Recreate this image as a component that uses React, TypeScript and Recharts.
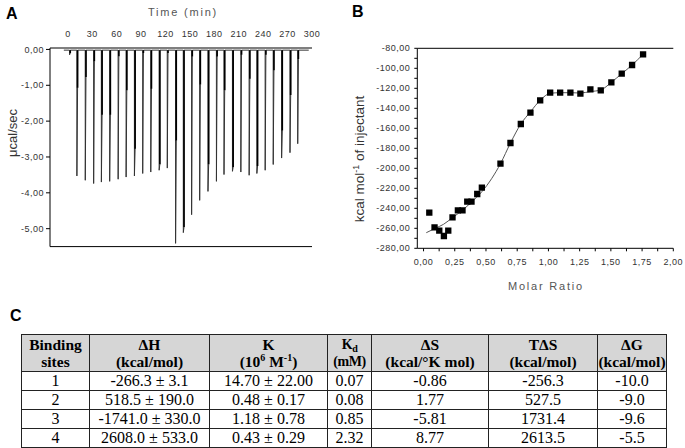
import React from 'react';
import { LineChart, ComposedChart, Line, Scatter, XAxis, YAxis, ZAxis } from 'recharts';

// ---------- Panel A: raw ITC thermogram ----------
const injectionTimes = [2, 11, 21.3, 31.6, 41.1, 51.3, 61.7, 71.5, 81.7, 91.9, 101.8, 112.1, 122.1, 132.3, 141.8, 152, 161.9, 172.1, 182.5, 191.8, 202.2, 212.5, 222.7, 232.2, 242.4, 252.3, 262.6, 272.9, 282.4];
const peakMinima = [-0.15, -3.53, -3.65, -3.74, -3.7, -3.68, -3.62, -3.56, -3.53, -3.46, -3.42, -3.37, -3.31, -5.41, -5.11, -4.61, -4.21, -3.96, -3.68, -3.49, -3.4, -3.42, -3.51, -3.46, -3.37, -3.21, -3.03, -2.88, -2.63];
const peakReturn = [-0.1, -1.07, -0.77, -0.33, -1.82, -1.82, -0.19, -1.14, -2.77, -0.1, -1.1, -3.2, -0.1, -2.54, -4.95, -0.2, -0.98, -3.2, -0.2, -1.14, -3.28, -0.15, -0.82, -3.25, -0.15, -0.58, -2.26, -1.27, -0.27];
const baselinePower = -0.02;
const timeTicks = [0, 30, 60, 90, 120, 150, 180, 210, 240, 270, 300];
const bottomTicks = [-9.5, 10, 29.5, 49, 68.5, 88, 107.5, 127, 146.5, 166, 185.5, 205, 224.5, 244, 263.5, 283];
const powerTicks = [-5, -4, -3, -2, -1, 0];
const powerMinorTicks = [-5.5, -5, -4.5, -4, -3.5, -3, -2.5, -2, -1.5, -1, -0.5, 0];

// ---------- Panel B: integrated heats ----------
const molarRatio = [0.046, 0.088, 0.126, 0.163, 0.198, 0.232, 0.275, 0.312, 0.35, 0.384, 0.43, 0.467, 0.616, 0.696, 0.779, 0.856, 0.934, 1.014, 1.094, 1.176, 1.256, 1.336, 1.419, 1.504, 1.587, 1.67, 1.758];
const heatPerMol = [-244.4, -259.0, -262.4, -267.7, -262.4, -249.0, -242.0, -242.0, -233.4, -233.4, -225.7, -219.4, -195.4, -174.7, -155.7, -144.4, -132.0, -124.4, -124.4, -124.4, -125.4, -121.0, -122.0, -114.0, -105.4, -96.7, -86.0];
const fitRatio = [0.022, 0.094, 0.16, 0.232, 0.307, 0.387, 0.467, 0.547, 0.616, 0.696, 0.779, 0.856, 0.934, 1.014, 1.094, 1.176, 1.256, 1.336, 1.419, 1.504, 1.587, 1.67, 1.758];
const fitHeat = [-264.4, -260, -256, -249.3, -242.4, -233.4, -223.4, -210, -195.4, -174.7, -155.7, -143.5, -132, -125, -124.4, -124.4, -124.7, -123.3, -121.7, -114, -105.4, -96.7, -86];
const ratioTicks = [0, 0.125, 0.25, 0.375, 0.5, 0.625, 0.75, 0.875, 1, 1.125, 1.25, 1.375, 1.5, 1.625, 1.75, 1.875, 2];
const heatTicks = [-280, -270, -260, -250, -240, -230, -220, -210, -200, -190, -180, -170, -160, -150, -140, -130, -120, -110, -100, -90, -80];

// ---------- Panel C: table ----------
const tableHeaders = [
  ['Binding', 'sites'],
  ['ΔH', '(kcal/mol)'],
  ['K', '(10^6 M^-1)'],
  ['K_d', '(mM)'],
  ['ΔS', '(kcal/°K mol)'],
  ['TΔS', '(kcal/mol)'],
  ['ΔG', '(kcal/mol)'],
];
const sites = ['1', '2', '3', '4'];
const deltaH = ['-266.3 ± 3.1', '518.5 ± 190.0', '-1741.0 ± 330.0', '2608.0 ± 533.0'];
const kValues = ['14.70 ± 22.00', '0.48 ± 0.17', '1.18 ± 0.78', '0.43 ± 0.29'];
const kd = ['0.07', '0.08', '0.85', '2.32'];
const deltaS = ['-0.86', '1.77', '-5.81', '8.77'];
const tDeltaS = ['-256.3', '527.5', '1731.4', '2613.5'];
const deltaG = ['-10.0', '-9.0', '-9.6', '-5.5'];
const colWidths = [68, 120, 118, 44, 117, 109, 69];

// ---------- derived tables for the library ----------
const traceData: { t: number; v: number }[] = [{ t: -5, v: baselinePower }];
injectionTimes.forEach((t, i) => {
  traceData.push({ t, v: baselinePower });
  traceData.push({ t: t + 0.05, v: peakMinima[i] });
  traceData.push({ t: t + 0.9, v: peakReturn[i] });
  traceData.push({ t: t + 1.0, v: baselinePower });
});
traceData.push({ t: 296, v: baselinePower });

// return strokes of each peak (drawn heavier), separated by gaps
const returnData: { t: number; v: number | null }[] = [];
injectionTimes.forEach((t, i) => {
  returnData.push({ t: t + 0.9, v: peakReturn[i] });
  returnData.push({ t: t + 0.9, v: baselinePower });
  returnData.push({ t: t + 0.95, v: null });
});

const pointData = molarRatio.map((x, i) => ({ x, y: heatPerMol[i] }));
const fitData = fitRatio.map((x, i) => ({ x, y: fitHeat[i] }));

const fmt2 = (v: number) => (Math.abs(v) < 1e-9 ? 0 : v).toFixed(2).replace('.', ',');
const sans = '"Liberation Sans", Arial, sans-serif';
const tickFont = { fontSize: 9, fill: '#333', fontFamily: sans, letterSpacing: 0.5 };

function HeaderCell({ lines, narrow }: { lines: string[]; narrow?: boolean }) {
  const render = (s: string) => {
    if (s === 'K_d') return (<>K<sub style={{ fontSize: 10, verticalAlign: 'baseline', position: 'relative', top: 3, lineHeight: 0 }}>d</sub></>);
    if (s === '(10^6 M^-1)') return (<>(10<sup style={{ fontSize: 10, verticalAlign: 'super', lineHeight: 0 }}>6</sup> M<sup style={{ fontSize: 10, verticalAlign: 'super', lineHeight: 0 }}>-1</sup>)</>);
    return s;
  };
  return (
    <th style={{ background: '#d6d6d6', border: '1px solid #222', padding: 0, fontSize: narrow ? 14 : 15.5, letterSpacing: narrow ? -0.4 : 0, lineHeight: '17px', fontWeight: 'bold', whiteSpace: 'nowrap', overflow: 'hidden' }}>
      {render(lines[0])}<br />{render(lines[1])}
    </th>
  );
}

export default function App() {
  const rows = sites.map((s, i) => [s, deltaH[i], kValues[i], kd[i], deltaS[i], tDeltaS[i], deltaG[i]]);
  return (
    <div style={{ position: 'absolute', left: 0, top: 0, width: 685, height: 448, background: '#fff', overflow: 'hidden' }}>
      {/* Panel A */}
      <div style={{ position: 'absolute', left: 0, top: 0 }}>
        <LineChart width={330} height={262} margin={{ top: 0, right: 18, bottom: 0, left: 0 }}>
          <XAxis xAxisId="t" dataKey="t" type="number" orientation="top" domain={[-22, 300]} allowDataOverflow ticks={timeTicks} interval={0} height={48} tickSize={0} tickMargin={11} tick={tickFont} stroke="#000" />
          <XAxis xAxisId="b" dataKey="t" type="number" orientation="bottom" domain={[-22, 300]} allowDataOverflow ticks={bottomTicks} interval={0} height={15.4} tickSize={4} tick={false} stroke="#000" />
          <YAxis yAxisId="v" type="number" domain={[-5.5, 0.04]} allowDataOverflow ticks={powerTicks} interval={0} width={50} tickSize={4} tickMargin={2} tickFormatter={fmt2} tick={tickFont} stroke="#000" />
          <YAxis yAxisId="vm" type="number" domain={[-5.5, 0.04]} allowDataOverflow ticks={powerMinorTicks} interval={0} mirror tickSize={3} tick={false} axisLine={false} stroke="#000" />
          <YAxis yAxisId="vr" orientation="right" type="number" domain={[-5.5, 0.04]} allowDataOverflow mirror tick={false} tickLine={false} width={0} stroke="#000" />
          <Line xAxisId="t" yAxisId="v" data={traceData} dataKey="v" type="linear" stroke="#333" strokeWidth={1} dot={false} isAnimationActive={false} />
          <Line xAxisId="t" yAxisId="v" data={returnData} dataKey="v" type="linear" stroke="#000" strokeWidth={1.6} dot={false} connectNulls={false} isAnimationActive={false} />
        </LineChart>
      </div>

      {/* Panel B */}
      <div style={{ position: 'absolute', left: 340, top: 0 }}>
        <ComposedChart width={345} height={300} margin={{ top: 48.3, right: 11.7, bottom: 0, left: 0 }}>
          <XAxis xAxisId="x" dataKey="x" type="number" orientation="bottom" domain={[-0.05, 2]} allowDataOverflow ticks={ratioTicks} interval={0} height={51.7} tickSize={3} tickMargin={7} tickFormatter={(v: number) => (Math.abs(v * 4 - Math.round(v * 4)) < 1e-6 ? fmt2(v) : '')} tick={tickFont} stroke="#000" />
          <XAxis xAxisId="xt" dataKey="x" type="number" orientation="top" mirror domain={[-0.05, 2]} allowDataOverflow ticks={ratioTicks} interval={0} tickSize={3} tick={false} stroke="#000" />
          <YAxis yAxisId="y" dataKey="y" type="number" domain={[-280, -80]} allowDataOverflow ticks={heatTicks} interval={0} width={77.3} tickSize={3} tickMargin={4} tickFormatter={(v: number) => (v % 20 === 0 ? fmt2(v) : '')} tick={tickFont} stroke="#000" />
          <YAxis yAxisId="yr" dataKey="y" type="number" orientation="right" mirror domain={[-280, -80]} allowDataOverflow ticks={heatTicks} interval={0} tickSize={3} tick={false} width={0} stroke="#000" />
          <ZAxis range={[40, 40]} />
          <Line xAxisId="x" yAxisId="y" data={fitData} dataKey="y" type="monotone" stroke="#555" strokeWidth={1} dot={false} isAnimationActive={false} />
          <Scatter xAxisId="x" yAxisId="y" data={pointData} dataKey="y" fill="#000" shape="square" isAnimationActive={false} />
        </ComposedChart>
      </div>

      {/* Titles */}
      <svg width={685} height={448} style={{ position: 'absolute', left: 0, top: 0, pointerEvents: 'none' }}>
        <text x={6} y={19} fontSize={16} fontWeight="bold" fontFamily={sans} fill="#000">A</text>
        <text x={352} y={17} fontSize={16} fontWeight="bold" fontFamily={sans} fill="#000">B</text>
        <text x={10} y={321} fontSize={16} fontWeight="bold" fontFamily={sans} fill="#000">C</text>
        <text x={183} y={16} fontSize={11} fontFamily={sans} fill="#555" textAnchor="middle" letterSpacing={1.8}>Time (min)</text>
        <text x={17} y={133} fontSize={13} fontFamily={sans} fill="#333" textAnchor="middle" transform="rotate(-90 17 133)">μcal/sec</text>
        <text x={364} y={159} fontSize={13.5} fontFamily={sans} fill="#333" textAnchor="middle" transform="rotate(-90 364 159)">
          kcal mol<tspan dy={-5} fontSize={9}>-1</tspan><tspan dy={5}> of injectant</tspan>
        </text>
        <text x={546} y={290} fontSize={11} fontFamily={sans} fill="#555" textAnchor="middle" letterSpacing={1.8}>Molar Ratio</text>
      </svg>

      {/* Panel C table */}
      <table style={{ position: 'absolute', left: 21, top: 334, borderCollapse: 'collapse', tableLayout: 'fixed', width: 645, fontFamily: '"Liberation Serif", "Times New Roman", serif', color: '#000', textAlign: 'center' }}>
        <colgroup>
          {colWidths.map((w, i) => (<col key={i} style={{ width: w }} />))}
        </colgroup>
        <thead>
          <tr style={{ height: 37 }}>
            {tableHeaders.map((h, i) => (<HeaderCell key={i} lines={h} narrow={i === 3} />))}
          </tr>
        </thead>
        <tbody>
          {rows.map((r, i) => (
            <tr key={i} style={{ height: 19 }}>
              {r.map((c, j) => (
                <td key={j} style={{ border: '1px solid #222', padding: 0, fontSize: 16, lineHeight: '18px', whiteSpace: 'nowrap' }}>{c}</td>
              ))}
            </tr>
          ))}
        </tbody>
      </table>
    </div>
  );
}
